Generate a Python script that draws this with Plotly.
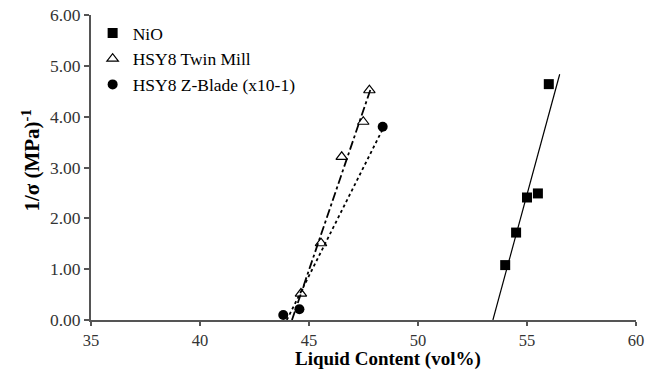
import numpy as np
import plotly.graph_objects as go

# Data
nio_x = [54.0, 54.5, 55.0, 55.5, 56.0]
nio_y = [1.08, 1.72, 2.41, 2.49, 4.64]

twin_x = [44.63, 45.55, 46.5, 47.49, 47.77]
twin_y = [0.52, 1.51, 3.21, 3.90, 4.52]

zblade_x = [43.82, 44.56, 48.38]
zblade_y = [0.10, 0.21, 3.80]

# trend line x-extents (end at the right)
nio_line_end = 56.5
twin_line_end = 47.85
zblade_line_end = 48.38

x_ticks = [35, 40, 45, 50, 55, 60]
y_ticks = [0, 1, 2, 3, 4, 5, 6]

x_title = "Liquid Content (vol%)"
y_title = "1/σ (MPa)<sup>-1</sup>"

FONT = "Liberation Serif"


def trend(xs, ys, x_end):
    m, b = np.polyfit(xs, ys, 1)
    x0 = -b / m
    return [x0, x_end], [0.0, m * x_end + b]


fig = go.Figure()

for xs, ys, end, dash in [
    (nio_x, nio_y, nio_line_end, "solid"),
    (twin_x, twin_y, twin_line_end, "dashdot"),
    (zblade_x, zblade_y, zblade_line_end, "dot"),
]:
    lx, ly = trend(xs, ys, end)
    fig.add_trace(go.Scatter(x=lx, y=ly, mode="lines", showlegend=False,
                             line=dict(color="black", width=1.8 if dash != "solid" else 1.2, dash=dash),
                             hoverinfo="skip"))

fig.add_trace(go.Scatter(x=nio_x, y=nio_y, mode="markers", name="NiO",
                         marker=dict(symbol="square", size=10, color="black")))
fig.add_trace(go.Scatter(x=twin_x, y=twin_y, mode="markers", name="HSY8 Twin Mill",
                         marker=dict(symbol="triangle-up-open", size=10, color="black",
                                     line=dict(width=1.2, color="black"))))
fig.add_trace(go.Scatter(x=zblade_x, y=zblade_y, mode="markers", name="HSY8 Z-Blade (x10-1)",
                         marker=dict(symbol="circle", size=10, color="black")))

axis_common = dict(
    showgrid=False, zeroline=False, showline=True, linecolor="#555555", linewidth=2,
    tickwidth=1.5, tickcolor="#555555", ticks="outside", automargin=False,
)

fig.update_xaxes(range=[35, 60], tickvals=x_ticks, ticklen=4,
                 tickfont=dict(family=FONT, size=16.5, color="#333333"), **axis_common)
fig.update_yaxes(range=[0, 6], tickvals=y_ticks, tickformat=".2f", ticklen=5,
                 tickfont=dict(family=FONT, size=17.5, color="#333333"), **axis_common)

fig.add_annotation(text=x_title, xref="paper", yref="paper", x=0.545, y=-0.167,
                   xanchor="center", yanchor="bottom", showarrow=False, borderpad=0,
                   font=dict(family=FONT, size=19, color="black", weight="bold"))
fig.add_annotation(text=y_title, xref="paper", yref="paper", x=-0.110, y=0.523,
                   xanchor="center", yanchor="middle", showarrow=False, textangle=-90,
                   font=dict(family=FONT, size=21, color="black", weight="bold"))

fig.update_layout(
    width=660, height=371,
    margin=dict(l=91, r=24, t=15, b=51),
    plot_bgcolor="white", paper_bgcolor="white",
    legend=dict(x=0.003, y=1.0, xanchor="left", yanchor="top",
                font=dict(family=FONT, size=17.5, color="black"),
                bgcolor="rgba(0,0,0,0)", itemwidth=30, tracegroupgap=0),
)

fig.write_html("out.html")
